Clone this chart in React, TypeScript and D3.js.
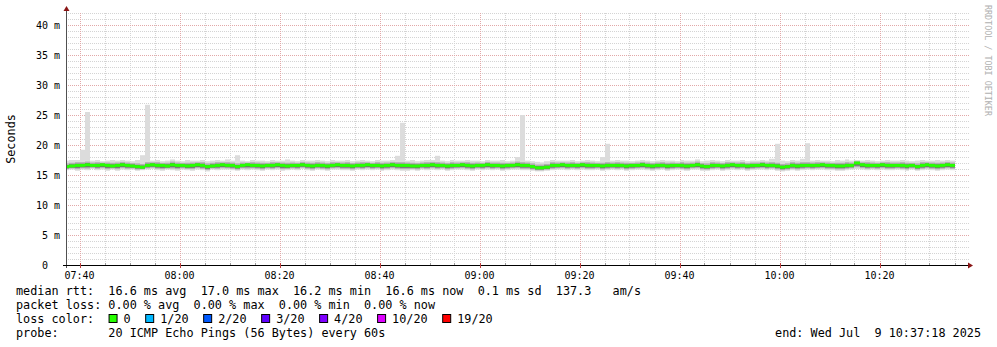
import React from "react";
import * as d3 from "d3";

const W = 997;
const H = 347;

// one sample per minute, starting 07:37
const medianRtt = [
  16.4, 16.5, 16.6, 16.6, 16.7, 16.6, 16.6, 16.7, 16.6, 16.5,
  16.6, 16.7, 16.6, 16.5, 16.4, 16.3, 16.6, 16.7, 16.6, 16.6,
  16.5, 16.7, 16.6, 16.6, 16.5, 16.6, 16.7, 16.6, 16.4, 16.5,
  16.6, 16.7, 16.6, 16.6, 16.4, 16.6, 16.7, 16.6, 16.6, 16.5,
  16.6, 16.6, 16.7, 16.6, 16.5, 16.6, 16.6, 16.7, 16.6, 16.5,
  16.6, 16.6, 16.5, 16.6, 16.7, 16.6, 16.6, 16.5, 16.6, 16.6,
  16.7, 16.6, 16.6, 16.5, 16.6, 16.7, 16.6, 16.6, 16.6, 16.5,
  16.5, 16.6, 16.6, 16.7, 16.6, 16.6, 16.5, 16.6, 16.6, 16.7,
  16.6, 16.5, 16.6, 16.6, 16.7, 16.6, 16.6, 16.5, 16.6, 16.6,
  16.7, 16.6, 16.6, 16.4, 16.2, 16.2, 16.3, 16.6, 16.6, 16.7,
  16.6, 16.6, 16.6, 16.7, 16.6, 16.6, 16.6, 16.5, 16.6, 16.6,
  16.6, 16.6, 16.5, 16.6, 16.6, 16.7, 16.6, 16.5, 16.6, 16.6,
  16.5, 16.6, 16.6, 16.6, 16.5, 16.6, 16.7, 16.5, 16.4, 16.6,
  16.6, 16.5, 16.6, 16.7, 16.6, 16.6, 16.5, 16.6, 16.6, 16.7,
  16.6, 16.6, 16.5, 16.3, 16.4, 16.6, 16.5, 16.6, 16.6, 16.6,
  16.6, 16.7, 16.6, 16.6, 16.5, 16.5, 16.6, 16.6, 17.0, 16.7,
  16.6, 16.6, 16.6, 16.7, 16.6, 16.6, 16.6, 16.6, 16.5, 16.6,
  16.4, 16.6, 16.7, 16.6, 16.5, 16.6, 16.7, 16.6,
];

const maxRtt = [
  17.4, 17.5, 17.5, 19.2, 25.5, 17.4, 17.5, 17.3, 17.4, 17.5,
  17.4, 17.5, 17.4, 17.3, 17.5, 18.3, 26.7, 17.4, 17.5, 17.3,
  17.4, 17.6, 17.4, 17.3, 17.5, 17.4, 17.4, 17.5, 17.3, 17.4,
  17.5, 17.4, 17.6, 17.4, 18.3, 17.4, 17.3, 17.5, 17.4, 17.4,
  17.3, 17.5, 17.4, 17.4, 17.6, 17.4, 17.3, 17.5, 17.4, 17.4,
  17.5, 17.4, 17.3, 17.5, 17.4, 17.4, 17.5, 17.3, 17.4, 17.5,
  17.4, 17.3, 17.5, 17.4, 17.4, 17.5, 18.2, 23.7, 17.4, 17.5,
  17.3, 17.4, 17.5, 17.5, 18.2, 17.4, 17.3, 17.5, 17.4, 17.4,
  17.5, 17.4, 17.4, 17.3, 17.5, 17.4, 17.4, 17.5, 17.3, 17.4,
  18.0, 25.0, 17.4, 17.3, 17.2, 17.1, 17.3, 17.5, 17.4, 17.4,
  17.4, 17.5, 17.3, 17.4, 17.5, 17.4, 17.3, 18.0, 20.2, 17.4,
  17.5, 17.4, 17.4, 17.3, 17.4, 17.5, 17.4, 17.3, 17.4, 17.5,
  17.4, 17.4, 17.3, 17.5, 17.4, 17.4, 17.6, 17.3, 17.4, 17.5,
  17.4, 17.3, 17.5, 17.4, 17.4, 17.5, 17.3, 17.4, 17.4, 17.5,
  17.4, 17.7, 20.2, 17.4, 17.3, 17.5, 17.4, 17.7, 20.3, 17.4,
  17.5, 17.4, 17.4, 17.3, 17.5, 17.4, 17.6, 17.4, 17.5, 17.4,
  17.5, 17.4, 17.3, 17.4, 17.5, 17.4, 17.4, 17.5, 17.4, 17.3,
  17.4, 17.5, 17.4, 17.4, 17.5, 17.4, 17.5, 17.4,
];

const minRtt = [
  15.8, 15.9, 15.7, 15.9, 15.8, 16.0, 15.8, 15.9, 15.7, 15.9,
  15.7, 15.9, 15.8, 15.9, 15.7, 15.8, 15.9, 16.0, 15.8, 15.7,
  15.9, 15.8, 15.7, 15.9, 15.8, 15.7, 15.9, 15.8, 15.6, 15.9,
  15.8, 15.9, 15.9, 15.8, 15.7, 15.9, 15.8, 15.9, 15.8, 15.7,
  15.9, 15.8, 15.9, 15.7, 15.8, 15.9, 15.8, 16.0, 15.8, 15.7,
  15.9, 15.8, 15.7, 15.9, 15.9, 15.8, 15.8, 15.7, 15.9, 15.8,
  15.9, 15.8, 15.9, 15.7, 15.8, 15.9, 15.8, 15.7, 15.7, 15.8,
  15.7, 15.9, 15.8, 15.9, 15.8, 15.9, 15.7, 15.8, 15.9, 15.9,
  15.8, 15.7, 15.9, 15.8, 15.9, 15.8, 15.9, 15.7, 15.8, 15.9,
  15.9, 15.8, 15.8, 15.7, 15.6, 15.6, 15.7, 15.8, 15.9, 15.9,
  15.8, 15.9, 15.8, 15.9, 15.8, 15.8, 15.9, 15.7, 15.8, 15.9,
  15.8, 15.9, 15.7, 15.8, 15.9, 15.9, 15.8, 15.7, 15.8, 15.9,
  15.7, 15.8, 15.9, 15.8, 15.7, 15.9, 15.9, 15.7, 15.7, 15.8,
  15.9, 15.7, 15.8, 15.9, 15.8, 15.9, 15.7, 15.8, 15.9, 15.9,
  15.8, 15.9, 15.7, 15.6, 15.7, 15.8, 15.7, 15.8, 15.9, 15.8,
  15.9, 15.9, 15.8, 15.8, 15.7, 15.7, 15.8, 15.9, 16.0, 15.9,
  15.8, 15.9, 15.8, 15.9, 15.8, 15.8, 15.9, 15.8, 15.7, 15.9,
  15.7, 15.8, 15.9, 15.8, 15.7, 15.8, 15.9, 15.8,
];

const yTicks = [0, 5, 10, 15, 20, 25, 30, 35, 40];
const lossLabels = ["0", "1/20", "2/20", "3/20", "4/20", "10/20", "19/20"];
const lossColors = ["#26ff00", "#00b8ff", "#0059ff", "#5e00ff", "#7e00ff", "#dd00ff", "#ff0000"];
const rttLine = "median rtt:  16.6 ms avg  17.0 ms max  16.2 ms min  16.6 ms now  0.1 ms sd  137.3   am/s";
const lossLine = "packet loss: 0.00 % avg  0.00 % max  0.00 % min  0.00 % now";
const probeLine = "probe:       20 ICMP Echo Pings (56 Bytes) every 60s";
const endLine = "end: Wed Jul  9 10:37:18 2025";

const MONO = "'DejaVu Sans Mono', monospace";

export default function App() {
  const left = 66, right = 966, top = 13, bottom = 265;
  const start = new Date(2025, 6, 9, 7, 37, 18);
  const end = new Date(2025, 6, 9, 10, 37, 18);
  const x = d3.scaleTime().domain([start, end]).range([left, right]);
  const y = d3.scaleLinear().domain([0, 42]).range([bottom, top]);
  const fmt = d3.timeFormat("%H:%M");

  const majorX = d3.timeMinute.every(20)!.range(start, end);
  const minorX = d3.timeMinute.every(5)!.range(start, end).filter((t) => t.getMinutes() % 20 !== 0);
  const minorY = d3.range(1, 43).filter((v) => v % 5 !== 0);
  const gridRight = 969;

  const samples = medianRtt.map((m, k) => {
    const t0 = new Date(2025, 6, 9, 7, 37 + k, 0);
    const t1 = new Date(2025, 6, 9, 7, 38 + k, 0);
    const x0 = Math.max(left + 1, Math.round(x(t0)));
    const x1 = Math.round(x(t1));
    const lo = minRtt[k];
    const hi = maxRtt[k];
    const hiC = Math.min(hi, m + 0.9);
    return { k, m, lo, hi, hiC, x0, x1 };
  });

  const cw = 7.12;
  let cursor = 16 + 13 * cw;
  const lossItems = lossLabels.map((lab, i) => {
    const bx = cursor;
    const tx = bx + 15;
    cursor = tx + lab.length * cw + 14.5;
    return { lab, color: lossColors[i], bx, tx };
  });

  return (
    <svg width={W} height={H} style={{ position: "absolute", left: 0, top: 0, background: "#fff" }} fontFamily={MONO}>
      <rect x={0} y={0} width={W} height={H} fill="#ffffff" />
      {/* minor grid */}
      {minorY.map((v) => (
        <line key={"my" + v} x1={left} x2={gridRight} y1={y(v) + 0.5} y2={y(v) + 0.5} stroke="#d4d4d4" strokeDasharray="1,1" />
      ))}
      {minorX.map((t) => (
        <line key={"mx" + t.getTime()} x1={Math.round(x(t)) + 0.5} x2={Math.round(x(t)) + 0.5} y1={top} y2={bottom} stroke="#d4d4d4" strokeDasharray="1,1" />
      ))}
      {/* major grid */}
      {yTicks.filter((v) => v > 0).map((v) => (
        <line key={"My" + v} x1={left} x2={gridRight} y1={y(v) + 0.5} y2={y(v) + 0.5} stroke="#e2a8a8" strokeDasharray="1,1" />
      ))}
      {majorX.map((t) => (
        <line key={"Mx" + t.getTime()} x1={Math.round(x(t)) + 0.5} x2={Math.round(x(t)) + 0.5} y1={top} y2={bottom} stroke="#e2a8a8" strokeDasharray="1,1" />
      ))}

      {/* smoke */}
      {samples.map((s) => (
        <rect key={"s1" + s.k} x={s.x0} width={s.x1 - s.x0} y={y(s.hi)} height={y(s.lo) - y(s.hi)} fill="#dcdcdc" />
      ))}
      {samples.map((s) => {
        const a = s.m + 0.6 * (s.hiC - s.m);
        const b = s.m - 0.7 * (s.m - s.lo);
        return <rect key={"s2" + s.k} x={s.x0} width={s.x1 - s.x0} y={y(a)} height={y(b) - y(a)} fill="#b0b0b0" />;
      })}
      {samples.map((s) => {
        const a = s.m + 0.3 * (s.hiC - s.m);
        const b = s.m - 0.45 * (s.m - s.lo);
        return <rect key={"s3" + s.k} x={s.x0} width={s.x1 - s.x0} y={y(a)} height={y(b) - y(a)} fill="#6e6e6e" />;
      })}
      {samples.map((s) => (
        <rect key={"g" + s.k} x={s.x0} width={s.x1 - s.x0} y={y(s.m) - 1.5} height={3} fill={lossColors[0]} />
      ))}

      {/* axes */}
      <line x1={left + 0.5} x2={left + 0.5} y1={bottom + 3} y2={9} stroke="#505050" />
      <path d={`M${left - 2.5},${11} L${left + 3.5},${11} L${left + 0.5},${6} Z`} fill="#8a1515" />
      <line x1={left - 3} x2={969} y1={bottom + 0.5} y2={bottom + 0.5} stroke="#000" />
      <path d={`M${968},${bottom - 2.5} L${968},${bottom + 3.5} L${973},${bottom + 0.5} Z`} fill="#8a1515" />
      {majorX.map((t) => (
        <line key={"tk" + t.getTime()} x1={Math.round(x(t)) + 0.5} x2={Math.round(x(t)) + 0.5} y1={bottom - 2} y2={bottom + 3} stroke="#c04040" />
      ))}
      {minorX.map((t) => (
        <line key={"tm" + t.getTime()} x1={Math.round(x(t)) + 0.5} x2={Math.round(x(t)) + 0.5} y1={bottom - 2} y2={bottom} stroke="#999" />
      ))}

      {/* y labels */}
      {yTicks.map((v) => (
        <text key={"yl" + v} x={v === 0 ? 48 : 60} y={y(v) + 0.5} fontSize={10} textAnchor="end" dominantBaseline="central" fill="#000">
          {v === 0 ? "0" : `${v} m`}
        </text>
      ))}
      {/* x labels */}
      {majorX.map((t) => (
        <text key={"xl" + t.getTime()} x={x(t)} y={278.5} fontSize={10} textAnchor="middle" fill="#000">
          {fmt(t)}
        </text>
      ))}

      <text transform="translate(15,139) rotate(-90)" fontSize={11.8} textAnchor="middle" fill="#000">Seconds</text>
      <text transform="translate(984.5,5) rotate(90)" fontSize={8.4} fill="#b0b0b0" style={{ whiteSpace: "pre" }}>RRDTOOL / TOBI OETIKER</text>

      {/* legend */}
      <text x={16} y={295} fontSize={11.8} fill="#000" style={{ whiteSpace: "pre" }}>{rttLine}</text>
      <text x={16} y={309} fontSize={11.8} fill="#000" style={{ whiteSpace: "pre" }}>{lossLine}</text>
      <text x={16} y={323} fontSize={11.8} fill="#000" style={{ whiteSpace: "pre" }}>loss color:</text>
      {lossItems.map((it) => (
        <g key={"li" + it.lab}>
          <rect x={it.bx + 0.5} y={314.5} width={8} height={8} fill={it.color} stroke="#000" strokeWidth={1} />
          <text x={it.tx} y={323} fontSize={11.8} fill="#000">{it.lab}</text>
        </g>
      ))}
      <text x={16} y={337} fontSize={11.8} fill="#000" style={{ whiteSpace: "pre" }}>{probeLine}</text>
      <text x={981} y={337} fontSize={11.8} textAnchor="end" fill="#000" style={{ whiteSpace: "pre" }}>{endLine}</text>
    </svg>
  );
}
